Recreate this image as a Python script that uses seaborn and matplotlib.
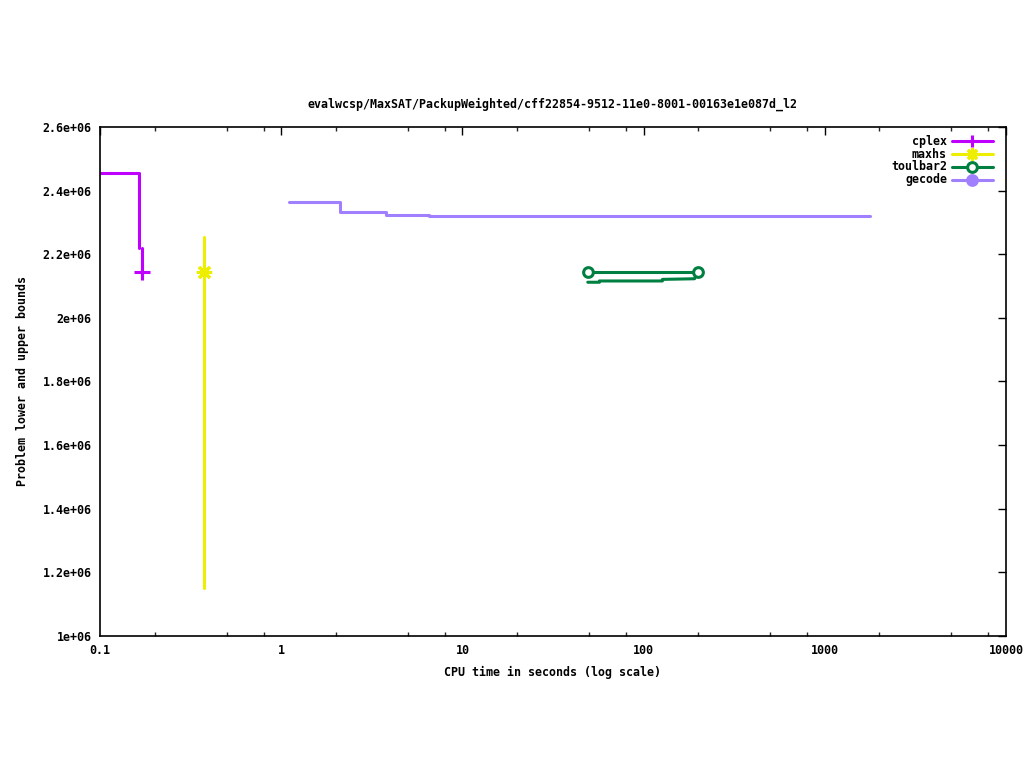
import matplotlib
matplotlib.use("Agg")
import matplotlib.pyplot as plt
import matplotlib.ticker as mticker
import seaborn as sns
import pandas as pd

sns.set_theme(style="white")
plt.rcParams["font.family"] = ["DejaVu Sans Mono", "DejaVu Sans"]
plt.rcParams["font.weight"] = "bold"
plt.rcParams["text.color"] = "black"
plt.rcParams["axes.labelcolor"] = "black"

TITLE = "evalwcsp/MaxSAT/PackupWeighted/cff22854-9512-11e0-8001-00163e1e087d_l2"
COLORS = {"cplex": "#c000ff", "maxhs": "#eeee00", "toulbar2": "#008040", "gecode": "#a080ff"}

# cplex: upper bound step, then lower bound segment, final marker
cplex_ub_t = [0.1, 0.165, 0.165]
cplex_ub_v = [2.455e6, 2.455e6, 2.22e6]
cplex_lb_t = [0.17, 0.17]
cplex_lb_v = [2.22e6, 2.125e6]
cplex_opt = (0.17, 2.143e6)

# maxhs
maxhs_t = [0.375, 0.375]
maxhs_v = [2.254e6, 1.15e6]
maxhs_opt = (0.375, 2.143e6)

# toulbar2
tb2_ub_t = [49.2, 198.8]
tb2_ub_v = [2.143e6, 2.143e6]
tb2_lb_t = [49.2, 57, 57, 127, 127, 191, 198.8]
tb2_lb_v = [2.112e6, 2.112e6, 2.116e6, 2.116e6, 2.121e6, 2.123e6, 2.143e6]

# gecode upper bound steps
gecode_t = [1.10, 2.11, 2.11, 3.78, 3.78, 6.53, 6.53, 1766]
gecode_v = [2.363e6, 2.363e6, 2.332e6, 2.332e6, 2.322e6, 2.322e6, 2.319e6, 2.319e6]

x_ticks = [0.1, 1, 10, 100, 1000, 10000]
x_labels = ["0.1", "1", "10", "100", "1000", "10000"]
y_ticks = [1.0e6, 1.2e6, 1.4e6, 1.6e6, 1.8e6, 2.0e6, 2.2e6, 2.4e6, 2.6e6]
y_labels = ["1e+06", "1.2e+06", "1.4e+06", "1.6e+06", "1.8e+06", "2e+06", "2.2e+06", "2.4e+06", "2.6e+06"]

LW = 2.2
FS = 8.4

fig = plt.figure(figsize=(10.24, 7.68), dpi=100)
ax = fig.add_axes([100 / 1024, 132 / 768, 906 / 1024, 509 / 768])


def seg(t, v, color):
    d = pd.DataFrame({"t": t, "v": v})
    sns.lineplot(data=d, x="t", y="v", sort=False, estimator=None, color=color,
                 linewidth=LW, ax=ax, legend=False)


seg(cplex_ub_t, cplex_ub_v, COLORS["cplex"])
seg(cplex_lb_t, cplex_lb_v, COLORS["cplex"])
seg(maxhs_t, maxhs_v, COLORS["maxhs"])
seg(tb2_ub_t, tb2_ub_v, COLORS["toulbar2"])
seg(tb2_lb_t, tb2_lb_v, COLORS["toulbar2"])
seg(gecode_t, gecode_v, COLORS["gecode"])

ax.plot([cplex_opt[0]], [cplex_opt[1]], marker="+", ms=11, mew=2.2, color=COLORS["cplex"], ls="none")
ax.plot([maxhs_opt[0]], [maxhs_opt[1]], marker=(8, 2, 0), ms=11, mew=2.2, color=COLORS["maxhs"], ls="none")
ax.plot([tb2_ub_t[0], tb2_ub_t[-1]], [tb2_ub_v[0], tb2_ub_v[-1]], marker="o", ms=7, mew=2.2,
        mfc="white", mec=COLORS["toulbar2"], ls="none")

ax.set_xscale("log")
ax.set_xlim(0.1, 10000)
ax.set_ylim(1.0e6, 2.6e6)
ax.set_xticks(x_ticks)
ax.set_xticklabels(x_labels)
ax.xaxis.set_minor_locator(mticker.LogLocator(base=10, subs=[2, 5, 8]))
ax.xaxis.set_minor_formatter(mticker.NullFormatter())
ax.set_yticks(y_ticks)
ax.set_yticklabels(y_labels)
ax.tick_params(axis="both", which="major", direction="in", length=6, width=1, colors="black",
               top=True, right=True, labelsize=FS, pad=6)
ax.tick_params(axis="x", which="minor", direction="in", length=3, width=1, top=True, bottom=True)
for lab in ax.get_xticklabels() + ax.get_yticklabels():
    lab.set_fontweight("bold")
for s in ax.spines.values():
    s.set_color("black")
    s.set_linewidth(1.2)

ax.set_xlabel("CPU time in seconds (log scale)", fontsize=FS, fontweight="bold", labelpad=6, color="black")
ax.set_ylabel("Problem lower and upper bounds", fontsize=FS, fontweight="bold", labelpad=10, color="black")
ax.set_title(TITLE, fontsize=FS, fontweight="bold", pad=14, color="black")

# gnuplot-style legend, text right-aligned
legend_items = [("cplex", "+", "none"), ("maxhs", (8, 2, 0), "none"),
                ("toulbar2", "o", "white"), ("gecode", "o", COLORS["gecode"])]
tr = ax.transAxes
for i, (name, mk, fc) in enumerate(legend_items):
    py = 141 + 13 * i
    yf = (636 - py) / 509
    ax.text((947 - 100) / 906, yf, name, transform=tr, ha="right", va="center",
            fontsize=FS, fontweight="bold", color="black")
    ax.plot([(952 - 100) / 906, (993 - 100) / 906], [yf, yf], transform=tr, color=COLORS[name],
            lw=LW, clip_on=False)
    mfc = COLORS[name] if fc != "white" else "white"
    ax.plot([(972 - 100) / 906], [yf], transform=tr, marker=mk, ms=9 if mk != "o" else 7,
            mew=2.2, color=COLORS[name], mfc=mfc if mk == "o" else COLORS[name],
            mec=COLORS[name], ls="none", clip_on=False)

fig.savefig("out.png", dpi=100)
